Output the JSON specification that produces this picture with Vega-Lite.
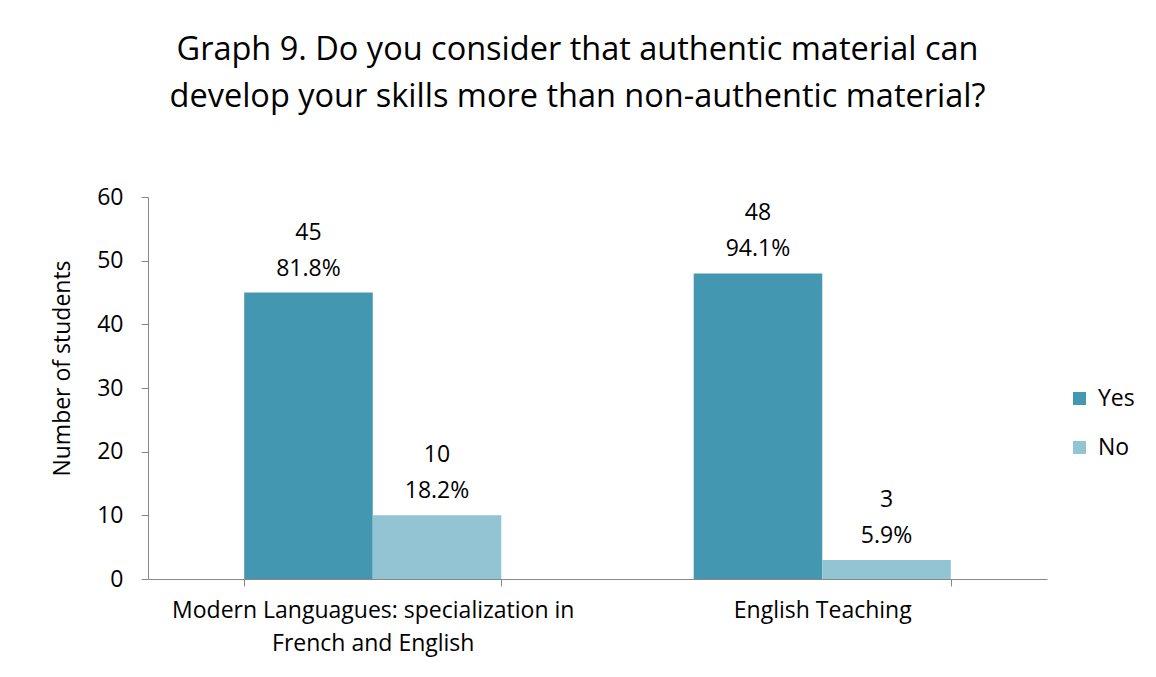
{
  "$schema": "https://vega.github.io/schema/vega-lite/v6.json",
  "autosize": {"type": "none"},
  "width": 899,
  "height": 382,
  "padding": {"left": 148, "top": 197, "right": 109, "bottom": 98},
  "background": "white",
  "config": {
    "font": "Open Sans",
    "view": {"stroke": null}
  },
  "title": {
    "text": ["Graph 9. Do you consider that authentic material can", "develop your skills more than non-authentic material?"],
    "fontSize": 32.5,
    "fontWeight": "normal",
    "font": "Open Sans",
    "color": "#000000",
    "anchor": "middle",
    "lineHeight": 47,
    "dx": -20,
    "offset": 73
  },
  "data": {
    "values": [
      {"program": "Modern Languagues: specialization in\nFrench and English", "answer": "Yes", "count": 45, "pct": "81.8%"},
      {"program": "Modern Languagues: specialization in\nFrench and English", "answer": "No", "count": 10, "pct": "18.2%"},
      {"program": "English Teaching", "answer": "Yes", "count": 48, "pct": "94.1%"},
      {"program": "English Teaching", "answer": "No", "count": 3, "pct": "5.9%"}
    ]
  },
  "encoding": {
    "x": {
      "field": "program", "type": "nominal", "sort": null,
      "scale": {"paddingInner": 0.428, "paddingOuter": 0.214},
      "axis": {
        "title": null, "labelAngle": 0, "labelFontSize": 23, "labelColor": "#000000",
        "labelExpr": "split(datum.label, '\\n')", "labelLineHeight": 33, "labelLimit": 0,
        "labelPadding": 13, "domainColor": "#888888", "tickColor": "#888888",
        "tickBand": "extent", "tickSize": 7, "labelFont": "Open Sans"
      }
    },
    "xOffset": {"field": "answer", "type": "nominal", "sort": ["Yes", "No"], "scale": {"paddingInner": 0, "paddingOuter": 0}},
    "y": {
      "field": "count", "type": "quantitative",
      "scale": {"domain": [0, 60]},
      "axis": {
        "title": "Number of students", "titleFontSize": 23, "titleFontWeight": "normal", "titleColor": "#000000",
        "titleFont": "Open Sans", "titleX": -86, "titleY": 171, "titleBaseline": "middle", "titleAngle": -90, "titleAlign": "center",
        "values": [0, 10, 20, 30, 40, 50, 60], "grid": false,
        "labelFontSize": 23, "labelColor": "#000000", "labelPadding": 18, "labelFont": "Open Sans",
        "domainColor": "#888888", "tickColor": "#888888", "tickSize": 7
      }
    }
  },
  "layer": [
    {
      "mark": {"type": "bar"},
      "encoding": {
        "color": {
          "field": "answer", "type": "nominal", "sort": ["Yes", "No"],
          "scale": {"domain": ["Yes", "No"], "range": ["#4397b0", "#93c4d4"]},
          "legend": {
            "title": null, "orient": "none", "legendX": 920, "legendY": 190,
            "symbolType": "square", "symbolSize": 169, "symbolStrokeWidth": 0,
            "labelFontSize": 23, "labelColor": "#000000", "labelFont": "Open Sans",
            "rowPadding": 25, "labelOffset": 7
          }
        }
      }
    },
    {
      "mark": {"type": "text", "baseline": "middle", "dy": -60, "fontSize": 23, "color": "#000000", "font": "Open Sans"},
      "encoding": {"text": {"field": "count", "type": "quantitative", "format": "d"}}
    },
    {
      "mark": {"type": "text", "baseline": "middle", "dy": -24, "fontSize": 23, "color": "#000000", "font": "Open Sans"},
      "encoding": {"text": {"field": "pct"}}
    }
  ]
}
